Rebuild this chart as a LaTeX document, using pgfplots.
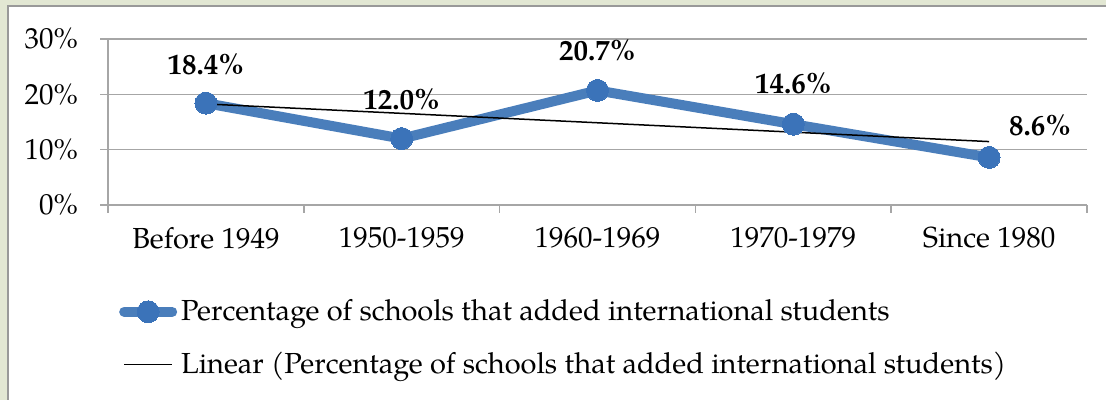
\documentclass[border=0pt]{standalone}
\usepackage{pgfplots}
\pgfplotsset{compat=1.18}
\usepackage{fontspec}
\setmainfont{TeX Gyre Pagella}
\definecolor{bggreen}{HTML}{E2E7D3}
\definecolor{lineblue}{HTML}{4A7EBB}
\definecolor{markblue}{HTML}{3B73B9}
\definecolor{gridgray}{HTML}{A6A6A6}
\begin{document}
\fontsize{14.5}{17}\selectfont
\begin{tikzpicture}[x=1pt,y=1pt]
\useasboundingbox (0,0) rectangle (553,200);
\fill[bggreen] (0,0) rectangle (553,200);
\fill[white] (4,0) rectangle (553,197);
\draw[gray!80, line width=0.8pt] (4,0) -- (4,197) -- (553,197);
\begin{axis}[
  at={(54pt,97.5pt)}, anchor=south west,
  scale only axis, width=489.5pt, height=83pt,
  xmin=-0.5, xmax=4.5, ymin=0, ymax=30,
  axis x line*=bottom, axis y line*=left,
  axis line style={gridgray, line width=0.8pt},
  ytick={0,10,20,30}, yticklabel={\pgfmathprintnumber{\tick}\%},
  /pgf/number format/assume math mode=true,
  ymajorgrids, grid style={gridgray, line width=0.8pt},
  tick align=outside, major tick length=4pt,
  tick style={gridgray, line width=0.8pt},
  xtick={-0.5,0.5,1.5,2.5,3.5,4.5}, xticklabels={},
  extra x ticks={0,1,2,3,4},
  extra x tick labels={Before 1949,1950-1959,1960-1969,1970-1979,Since 1980},
  extra x tick style={major tick length=0pt, grid=none},
  xticklabel style={yshift=-6pt},
  yticklabel style={xshift=-6pt},
  legend cell align=left,
  legend style={at={(0.011,-0.54)}, anchor=north west, draw=none, fill=none,
    inner sep=0pt, row sep=9.5pt, font=\fontsize{14.5}{17}\selectfont},
  legend image code/.code={\draw[mark repeat=2,mark phase=2,#1] plot coordinates {(0pt,0pt) (12pt,0pt) (24pt,0pt)};},
  clip=false,
]
\addplot[lineblue, line width=5pt, line cap=round, line join=round, mark=*, mark size=5.5pt,
  mark options={fill=markblue, draw=markblue, line width=0pt}]
  coordinates {(0,18.4) (1,12.0) (2,20.7) (3,14.6) (4,8.6)};
\addlegendentry{Percentage of schools that added international students}
\addplot[black, line width=0.75pt] coordinates {(0,18.26) (4,11.46)};
\addlegendentry{Linear (Percentage of schools that added international students)}
\node[font=\bfseries] at (axis cs:0,18.4) [yshift=19.5pt] {18.4\%};
\node[font=\bfseries] at (axis cs:1,12.0) [yshift=19.5pt] {12.0\%};
\node[font=\bfseries] at (axis cs:2,20.7) [yshift=20pt] {20.7\%};
\node[font=\bfseries] at (axis cs:3,14.6) [yshift=20.5pt] {14.6\%};
\node[font=\bfseries] at (axis cs:4,8.6) [xshift=25.5pt, yshift=16pt] {8.6\%};
\end{axis}
\end{tikzpicture}
\end{document}
